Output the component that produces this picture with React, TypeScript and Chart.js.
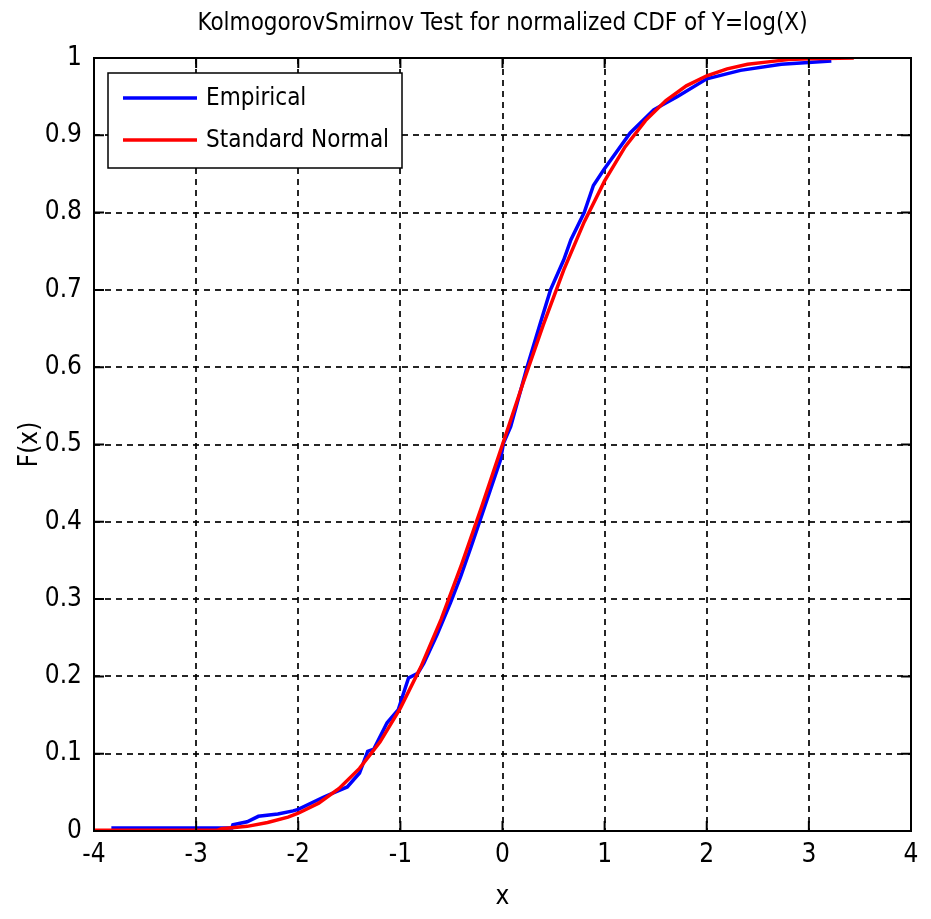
import React, { useEffect, useRef } from "react";
import { Chart, registerables } from "chart.js";

Chart.register(...registerables);

const TITLE = "KolmogorovSmirnov Test for normalized CDF of Y=log(X)";
const X_LABEL = "x";
const Y_LABEL = "F(x)";
const SERIES_NAMES = ["Empirical", "Standard Normal"];
const SERIES_COLORS = ["#0000ff", "#ff0000"];

const X_TICKS = [-4, -3, -2, -1, 0, 1, 2, 3, 4];
const Y_TICKS = [0, 0.1, 0.2, 0.3, 0.4, 0.5, 0.6, 0.7, 0.8, 0.9, 1];

const empiricalX = [-3.83, -2.65, -2.64, -2.5, -2.39, -2.2, -2.05, -2.0, -1.75, -1.52, -1.4, -1.32, -1.26, -1.13, -1.02, -0.97, -0.92, -0.83, -0.77, -0.64, -0.51, -0.41, -0.31, -0.23, -0.12, -0.02, 0.01, 0.08, 0.24, 0.37, 0.47, 0.6, 0.67, 0.8, 0.89, 0.99, 1.25, 1.48, 1.71, 2.0, 2.33, 2.73, 3.22];
const empiricalF = [0.004, 0.004, 0.008, 0.012, 0.019, 0.022, 0.026, 0.028, 0.044, 0.057, 0.075, 0.103, 0.106, 0.14, 0.157, 0.178, 0.198, 0.204, 0.217, 0.254, 0.295, 0.329, 0.367, 0.398, 0.441, 0.48, 0.502, 0.523, 0.6, 0.657, 0.7, 0.739, 0.765, 0.8, 0.835, 0.855, 0.903, 0.933, 0.95, 0.973, 0.984, 0.992, 0.996];

const normalX = [-4, -2.79, -2.75, -2.5, -2.3, -2.1, -2.0, -1.8, -1.6, -1.4, -1.2, -1.0, -0.8, -0.6, -0.4, -0.2, 0, 0.2, 0.4, 0.6, 0.8, 1.0, 1.2, 1.4, 1.6, 1.8, 2.0, 2.2, 2.4, 2.6, 2.8, 3.0, 3.44];
const normalF = [0.001, 0.001, 0.003, 0.006, 0.011, 0.018, 0.023, 0.036, 0.055, 0.081, 0.115, 0.159, 0.212, 0.274, 0.345, 0.421, 0.5, 0.579, 0.655, 0.726, 0.788, 0.841, 0.885, 0.919, 0.945, 0.964, 0.977, 0.986, 0.992, 0.995, 0.998, 0.999, 1.0];

const FONT = '"Liberation Sans Narrow", "DejaVu Sans Condensed", "Liberation Sans", Arial, sans-serif';

const boxPlugin = {
  id: "matlabBox",
  afterDatasetsDraw(chart: any) {
    const { ctx, chartArea: a, scales } = chart;
    const xs = scales.x;
    const ys = scales.y;
    ctx.save();
    ctx.strokeStyle = "#000";
    ctx.lineWidth = 2;
    ctx.setLineDash([]);
    ctx.strokeRect(a.left, a.top, a.right - a.left, a.bottom - a.top);
    const tl = 10;
    ctx.beginPath();
    X_TICKS.forEach((v) => {
      const px = xs.getPixelForValue(v);
      ctx.moveTo(px, a.bottom);
      ctx.lineTo(px, a.bottom - tl);
      ctx.moveTo(px, a.top);
      ctx.lineTo(px, a.top + tl);
    });
    Y_TICKS.forEach((v) => {
      const py = ys.getPixelForValue(v);
      ctx.moveTo(a.left, py);
      ctx.lineTo(a.left + tl, py);
      ctx.moveTo(a.right, py);
      ctx.lineTo(a.right - tl, py);
    });
    ctx.stroke();

    // title
    ctx.fillStyle = "#000";
    ctx.font = `24px ${FONT}`;
    ctx.textAlign = "center";
    ctx.textBaseline = "middle";
    ctx.fillText(TITLE, (a.left + a.right) / 2, 24);

    // legend
    const lx = 108, ly = 73, lw = 294, lh = 95;
    ctx.fillStyle = "#fff";
    ctx.fillRect(lx, ly, lw, lh);
    ctx.strokeStyle = "#000";
    ctx.lineWidth = 1.5;
    ctx.strokeRect(lx, ly, lw, lh);
    ctx.font = `24px ${FONT}`;
    ctx.textAlign = "left";
    ctx.textBaseline = "middle";
    const rows = [98, 140];
    chart.data.datasets.forEach((ds: any, i: number) => {
      const y = rows[i];
      ctx.strokeStyle = ds.borderColor;
      ctx.lineWidth = 3.5;
      ctx.beginPath();
      ctx.moveTo(123, y);
      ctx.lineTo(197, y);
      ctx.stroke();
      ctx.fillStyle = "#000";
      ctx.fillText(ds.label, 206, y + 1);
    });
    ctx.restore();
  },
};

export default function App() {
  const ref = useRef<HTMLCanvasElement | null>(null);
  useEffect(() => {
    document.body.style.margin = "0";
    const canvas = ref.current;
    if (!canvas) return;
    const emp = empiricalX.map((x, i) => ({ x, y: empiricalF[i] }));
    const nor = normalX.map((x, i) => ({ x, y: normalF[i] }));
    const chart = new Chart(canvas, {
      type: "scatter",
      data: {
        datasets: [
          {
            label: SERIES_NAMES[0],
            data: emp,
            showLine: true,
            borderColor: SERIES_COLORS[0],
            backgroundColor: SERIES_COLORS[0],
            borderWidth: 3.5,
            pointRadius: 0,
            order: 2,
          },
          {
            label: SERIES_NAMES[1],
            data: nor,
            showLine: true,
            borderColor: SERIES_COLORS[1],
            backgroundColor: SERIES_COLORS[1],
            borderWidth: 3.5,
            pointRadius: 0,
            order: 1,
          },
        ],
      },
      options: {
        responsive: false,
        animation: false,
        layout: { padding: { top: 58, right: 20, left: 0, bottom: 0 } },
        plugins: { legend: { display: false }, tooltip: { enabled: false }, title: { display: false } },
        scales: {
          x: {
            type: "linear",
            min: -4,
            max: 4,
            afterFit: (s: any) => { s.height = 88; },
            afterBuildTicks: (s: any) => { s.ticks = X_TICKS.map((v) => ({ value: v })); },
            ticks: {
              color: "#000",
              font: { family: FONT, size: 26 },
              padding: 9,
              maxRotation: 0,
              callback: (v: any) => String(v),
            },
            grid: {
              color: "rgba(0,0,0,0.85)",
              lineWidth: 2,
              drawTicks: false,
            },
            border: { display: false, dash: [6, 5] },
            title: {
              display: true,
              text: X_LABEL,
              color: "#000",
              font: { family: FONT, size: 26 },
              padding: { top: 0, bottom: 6 },
            },
          },
          y: {
            type: "linear",
            min: 0,
            max: 1,
            afterFit: (s: any) => { s.width = 94; },
            afterBuildTicks: (s: any) => { s.ticks = Y_TICKS.map((v) => ({ value: v })); },
            ticks: {
              color: "#000",
              font: { family: FONT, size: 26 },
              padding: 12,
              callback: (v: any) => (v === 0 ? "0" : v === 1 ? "1" : Number(v).toFixed(1)),
            },
            grid: {
              color: "rgba(0,0,0,0.85)",
              lineWidth: 2,
              drawTicks: false,
            },
            border: { display: false, dash: [6, 5] },
            title: {
              display: true,
              text: Y_LABEL,
              color: "#000",
              font: { family: FONT, size: 26 },
              padding: { top: 15, bottom: 0 },
            },
          },
        },
      },
      plugins: [boxPlugin],
    });
    return () => chart.destroy();
  }, []);
  return (
    <div style={{ width: 931, height: 919 }}>
      <canvas ref={ref} width={931} height={919} style={{ display: "block" }} />
    </div>
  );
}
